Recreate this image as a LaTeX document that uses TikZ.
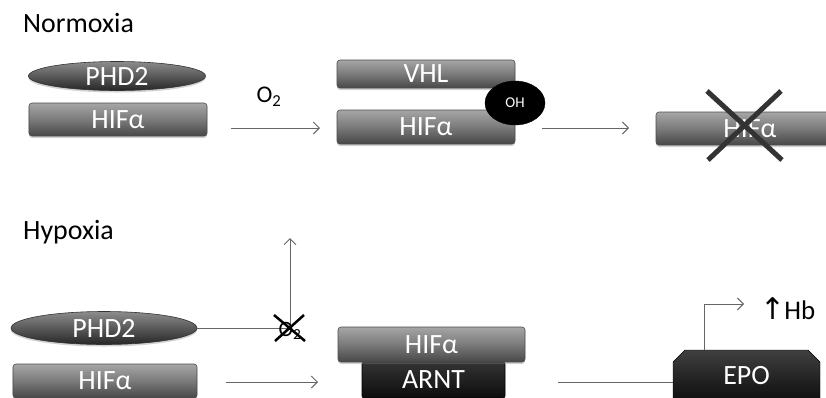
\documentclass[tikz,border=0pt]{standalone}
\usepackage{fontspec}
\setmainfont{Carlito}
\newfontfamily\symfont{DejaVu Sans}
\usetikzlibrary{arrows.meta,shapes.geometric,shapes.misc,shadows}
\tikzset{
  bar/.style={rectangle, rounded corners=3bp, draw=black!70, line width=0.6bp,
    top color=black!35, bottom color=black!72, middle color=black!52,
    text=white, font=\fontsize{28}{30}\selectfont, inner sep=0pt,
    drop shadow={shadow xshift=0bp, shadow yshift=-2bp, opacity=0.35}},
  darkbar/.style={rectangle, rounded corners=2bp, draw=black, line width=0.6bp,
    top color=black!80, bottom color=black!95,
    text=white, font=\fontsize{28}{30}\selectfont, inner sep=0pt},
  oval/.style={ellipse, draw=black!80, line width=0.6bp,
    top color=black!45, bottom color=black!85, middle color=black!65,
    text=white, font=\fontsize{28}{30}\selectfont, inner sep=0pt,
    drop shadow={shadow xshift=0bp, shadow yshift=-2bp, opacity=0.35}},
  title/.style={anchor=base west, font=\fontsize{28}{30}\selectfont, inner sep=0pt},
  conn/.style={draw=black!60, line width=1bp},
  arr/.style={conn, -{Straight Barb[length=6bp,width=12bp]}},
}
\begin{document}
\begin{tikzpicture}[x=1bp,y=-1bp]
\useasboundingbox[fill=white] (0,0) rectangle (826,397);
% Normoxia
\node[title] (tN) at (23,32) {Normoxia};
\node[oval, minimum width=177bp, minimum height=29bp] (phd1) at (117,76) {PHD2};
\node[bar, minimum width=178bp, minimum height=33bp] (hif1) at (118,119.5) {HIFα};
\node[font=\fontsize{24}{26}\selectfont, inner sep=0pt] (o2a) at (269,97) {O\textsubscript{2}};
\coordinate (a1s) at (231,128);
\coordinate (a1e) at (320,128);
\draw[arr] (a1s) -- (a1e);
\node[bar, minimum width=178bp, minimum height=28bp] (vhl) at (426,74) {VHL};
\node[bar, minimum width=178bp, minimum height=34bp] (hif2) at (426,127) {HIFα};
\node[ellipse, fill=black, draw=black, minimum width=60bp, minimum height=44bp, inner sep=0pt,
  text=white, font=\fontsize{15}{16}\selectfont] (oh) at (515,103) {OH};
\coordinate (a2s) at (542,128);
\coordinate (a2e) at (629,128);
\draw[arr] (a2s) -- (a2e);
\node[bar, minimum width=188bp, minimum height=33bp] (hif3) at (750,128.5) {HIFα};
\coordinate (x1a) at (707,91); \coordinate (x1b) at (782,160);
\coordinate (x2a) at (781,91); \coordinate (x2b) at (708,160);
\draw[black!80, line width=5bp] (x1a) -- (x1b) (x2a) -- (x2b);
% Hypoxia
\node[title] (tH) at (23,239) {Hypoxia};
\node[oval, minimum width=186bp, minimum height=33bp] (phd2) at (104,328) {PHD2};
\node[bar, minimum width=184bp, minimum height=34bp] (hif4) at (105,381) {HIFα};
\coordinate (vt) at (290,238);
\coordinate (vb) at (290,328);
\draw[conn] (phd2.east) -- (vb);
\draw[arr] (vb) -- (vt);
\node[font=\fontsize{22}{24}\selectfont, inner sep=0pt] (o2b) at (290,331) {O\textsubscript{2}};
\coordinate (y1a) at (274,315); \coordinate (y1b) at (305,341);
\coordinate (y2a) at (304,315); \coordinate (y2b) at (275,341);
\draw[black, line width=2.5bp] (y1a) -- (y1b) (y2a) -- (y2b);
\coordinate (a3s) at (226,382);
\coordinate (a3e) at (318,382);
\draw[arr] (a3s) -- (a3e);
\node[darkbar, minimum width=143bp, minimum height=36bp] (arnt) at (433.5,380) {ARNT};
\node[bar, minimum width=187bp, minimum height=35bp] (hif5) at (431.5,344.5) {HIFα};
\node[chamfered rectangle, chamfered rectangle corners={north west,north east},
  chamfered rectangle xsep=6bp, chamfered rectangle ysep=6bp,
  draw=black, top color=black!75, bottom color=black!95, text=white,
  font=\fontsize{28}{30}\selectfont, inner sep=0pt,
  minimum width=147bp, minimum height=52bp] (epo) at (746.5,376) {EPO};
\coordinate (l4s) at (558,382);
\draw[conn] (l4s) -- (l4s -| epo.west);
\coordinate (eptop) at (704,304);
\coordinate (hbarr) at (744,304);
\draw[arr] (eptop |- epo.north) -- (eptop) -- (hbarr);
\node[anchor=west, font=\fontsize{27}{29}\selectfont, inner sep=0pt] (hb) at (760,309) {{\symfont\fontsize{30}{30}\selectfont ↑}\hspace{-1bp}Hb};
\end{tikzpicture}
\end{document}
